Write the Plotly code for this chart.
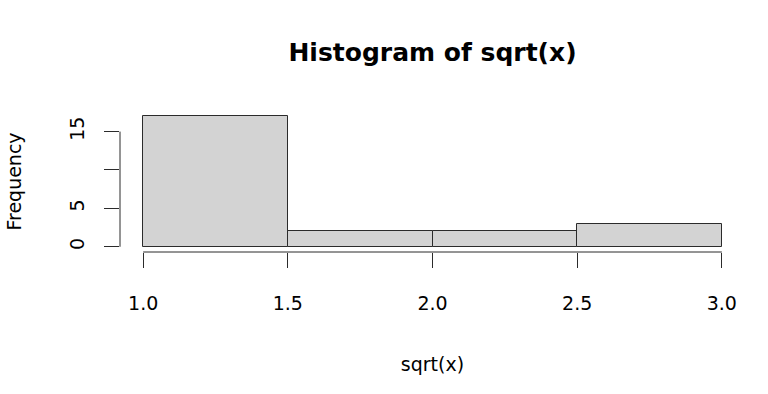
import plotly.graph_objects as go

# Data
breaks = [1.0, 1.5, 2.0, 2.5, 3.0]
counts = [17, 2, 2, 3]
x_ticks = [1.0, 1.5, 2.0, 2.5, 3.0]
x_tick_labels = ["1.0", "1.5", "2.0", "2.5", "3.0"]
y_ticks = [0, 5, 10, 15]
y_tick_labels = ["0", "5", "", "15"]

mids = [(a + b) / 2 for a, b in zip(breaks[:-1], breaks[1:])]
widths = [b - a for a, b in zip(breaks[:-1], breaks[1:])]

FONT = "DejaVu Sans, Liberation Sans, Arial, sans-serif"
LINE = "#2b2b2b"

xspan = breaks[-1] - breaks[0]
xr = [breaks[0] - 0.04 * xspan, breaks[-1] + 0.04 * xspan]
ymax = max(counts)
yr = [-0.04 * ymax, ymax * 1.04]

fig = go.Figure()
fig.add_trace(go.Bar(
    x=mids, y=counts, width=widths,
    marker=dict(color="#d3d3d3", line=dict(color=LINE, width=1)),
    showlegend=False, hoverinfo="skip",
))

# R-style axis lines spanning only the tick range
fig.add_shape(type="line", xref="x", yref="paper",
              x0=x_ticks[0], x1=x_ticks[-1], y0=0, y1=0,
              line=dict(color=LINE, width=1))
fig.add_shape(type="line", xref="paper", yref="y",
              x0=0, x1=0, y0=y_ticks[0], y1=y_ticks[-1],
              line=dict(color=LINE, width=1))

fig.update_layout(
    width=768, height=394,
    margin=dict(l=120, r=23, t=111, b=142, autoexpand=False),
    paper_bgcolor="white", plot_bgcolor="white",
    font=dict(family=FONT, size=19, color="black"),
    bargap=0,
    title=dict(text="<b>Histogram of sqrt(x)</b>", font=dict(family=FONT, size=25, color="black"),
               xref="paper", x=0.5, xanchor="center",
               yref="container", y=1 - 52 / 394, yanchor="middle"),
    xaxis=dict(range=xr, showgrid=False, zeroline=False, showline=False,
               tickmode="array", tickvals=x_ticks, ticktext=x_tick_labels,
               ticks="outside", ticklen=15, tickwidth=1, tickcolor=LINE,
               ticklabelstandoff=19,
               title=dict(text="sqrt(x)", standoff=44, font=dict(size=19)),
               automargin=False),
    yaxis=dict(range=yr, showgrid=False, zeroline=False, showline=False,
               tickmode="array", tickvals=y_ticks, ticktext=y_tick_labels,
               ticks="outside", ticklen=15, tickwidth=1, tickcolor=LINE,
               tickangle=-90, ticklabelstandoff=12,
               title=dict(text="Frequency", standoff=39, font=dict(size=19)),
               automargin=False),
)

fig.write_html("out.html", config={"displayModeBar": False},
               post_script="document.body.style.margin='0';")
